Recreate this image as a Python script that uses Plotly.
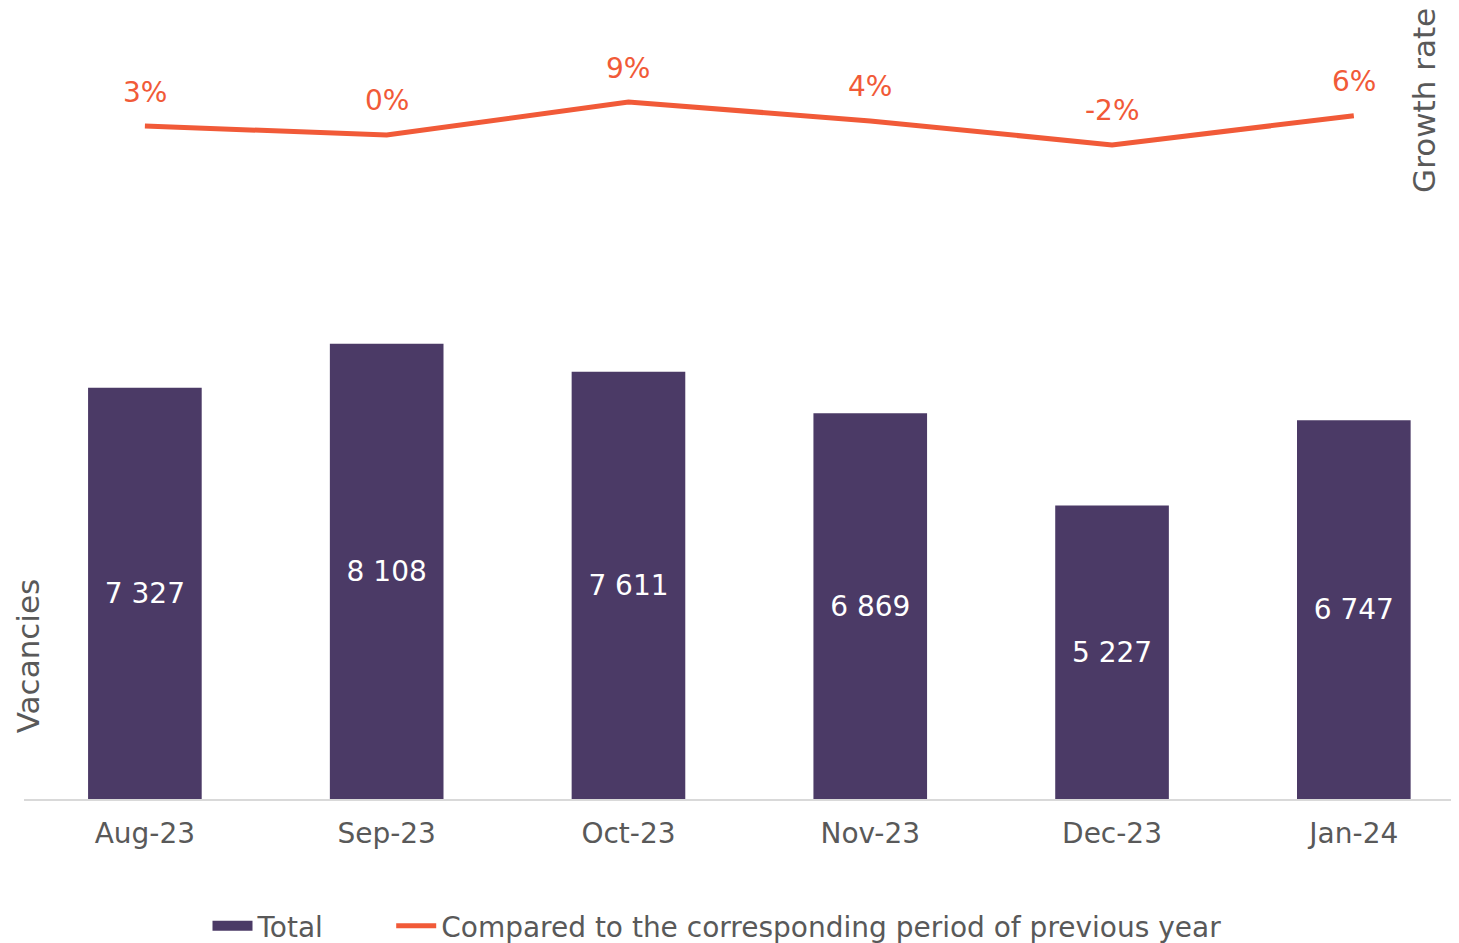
import plotly.graph_objects as go

categories = ["Aug-23", "Sep-23", "Oct-23", "Nov-23", "Dec-23", "Jan-24"]
vacancies = [7327, 8108, 7611, 6869, 5227, 6747]
growth_pct = [2.8, 0.4, 9.3, 4.2, -2.3, 5.6]
growth_labels = ["3%", "0%", "9%", "4%", "-2%", "6%"]

BAR_COLOR = "#4B3A66"
LINE_COLOR = "#F15A38"
TEXT_COLOR = "#595959"
FONT = "DejaVu Sans"
NBSP = "\u00a0"

fig = go.Figure()
fig.add_trace(go.Bar(
    x=categories, y=vacancies, name="Total", showlegend=False,
    marker=dict(color=BAR_COLOR, line=dict(width=0)),
    width=0.47,
    texttemplate="%{y:,}", textposition="inside", insidetextanchor="middle",
    textfont=dict(color="white", size=28, family=FONT),
    textangle=0,
))
# legend entry for the bars (wide rectangle swatch)
fig.add_trace(go.Scatter(
    x=[None], y=[None], name="Total" + NBSP * 7, mode="lines",
    line=dict(color=BAR_COLOR, width=16),
))
fig.add_trace(go.Scatter(
    x=categories, y=growth_pct, name="Compared to the corresponding period of previous year",
    mode="lines", line=dict(color=LINE_COLOR, width=5), yaxis="y2",
))

for c, v, t in zip(categories, growth_pct, growth_labels):
    fig.add_annotation(x=c, y=v, yref="y2", text=t, showarrow=False,
                       yshift=34, font=dict(color=LINE_COLOR, size=28, family=FONT))

# page has an 8px body margin; work in page pixel coordinates
OFF = 8
W, H = 1459 - OFF, 943
L, R, T = 24 - OFF, 0, 13 - OFF
PLOT_BOTTOM = 800 - OFF
B = H - PLOT_BOTTOM
pw, ph = W - L - R, PLOT_BOTTOM - T

def px(xp):
    return (xp - OFF - L) / pw

def py(yp):
    return (PLOT_BOTTOM - (yp - OFF)) / ph

fig.add_annotation(x=px(1424), y=py(101), xref="paper", yref="paper", text="Growth rate",
                   showarrow=False, textangle=-90, xanchor="center", yanchor="middle",
                   font=dict(color=TEXT_COLOR, size=31, family=FONT))
fig.add_annotation(x=px(28), y=py(657), xref="paper", yref="paper", text="Vacancies",
                   showarrow=False, textangle=-90, xanchor="center", yanchor="middle",
                   font=dict(color=TEXT_COLOR, size=31, family=FONT))

fig.update_layout(
    width=W, height=H,
    margin=dict(l=L, r=R, t=T, b=B),
    paper_bgcolor="white", plot_bgcolor="white",
    separators=". ",
    font=dict(family=FONT, color=TEXT_COLOR, size=28),
    showlegend=True,
    legend=dict(orientation="h", x=px(717), xanchor="center", y=py(927), yanchor="middle",
                font=dict(size=28, color=TEXT_COLOR, family=FONT), itemwidth=40,
                tracegroupgap=0),
    xaxis=dict(range=[-0.5, 5.435], showgrid=False, showline=True, linecolor="#D9D9D9",
               linewidth=2, ticks="outside", ticklen=8, tickcolor="rgba(0,0,0,0)",
               tickfont=dict(size=28, color=TEXT_COLOR)),
    yaxis=dict(range=[0, 14000], showgrid=False, showticklabels=False, zeroline=False),
    yaxis2=dict(range=[-179.3, 33.4], overlaying="y", side="right", showgrid=False,
                showticklabels=False, zeroline=False),
)

fig.write_html("out.html")
